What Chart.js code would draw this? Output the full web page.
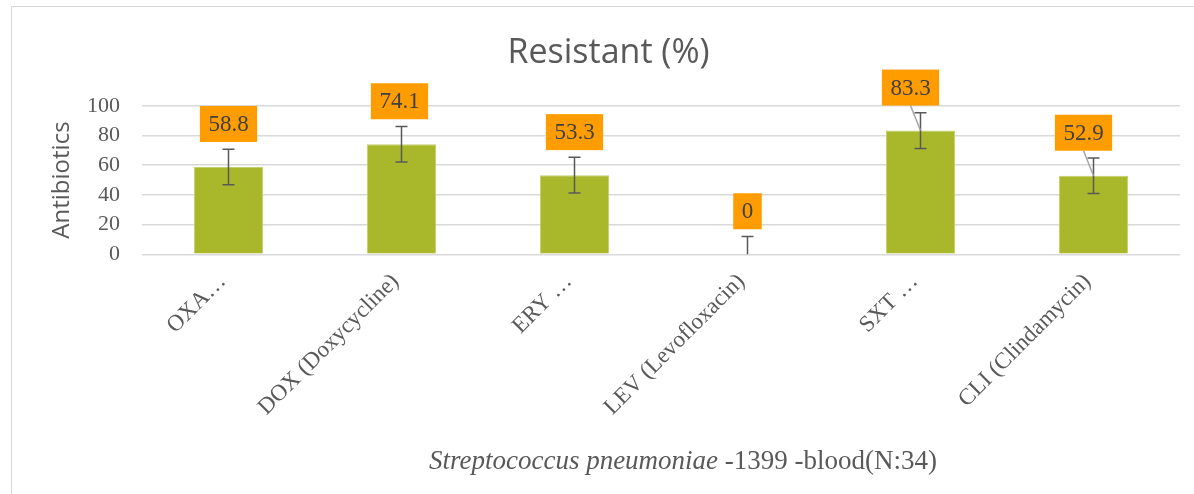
<!DOCTYPE html>
<html>
<head>
<meta charset="utf-8">
<script src="https://cdn.jsdelivr.net/npm/chart.js@4"></script>
<style>
  html, body { margin: 0; padding: 0; background: #fff; overflow: hidden; }
  #marco {
    position: absolute; left: 11px; top: 6px;
    width: 1200px; height: 500px;
    border-left: 1px solid #d9d9d9; border-top: 1px solid #d9d9d9;
  }
</style>
</head>
<body>
<div id="marco"><canvas id="barChart"></canvas></div>
<script>
// datos del grafico
const categorias = ['OXA…', 'DOX (Doxycycline)', 'ERY …', 'LEV (Levofloxacin)', 'SXT …', 'CLI (Clindamycin)'];
const resistentes = [58.8, 74.1, 53.3, 0, 83.3, 52.9];
const errores = [12, 12, 12, 12, 12, 12];
const ticksY = [0, 20, 40, 60, 80, 100];

// desplazamiento horizontal de algunas etiquetas (como en el original)
const desplazaEtiqueta = [0, -2, 0, 0, -10, -10];

const gris = '#595959';
const serif = "'Liberation Serif', 'Times New Roman', serif";
const sans = "'Open Sans', 'Noto Sans', sans-serif";

// plugin: barras de error, etiquetas naranjas y titulo inferior
const extras = {
    id: 'extras',
    afterDatasetsDraw(chart) {
        const ctx = chart.ctx;
        const y = chart.scales.y;
        const meta = chart.getDatasetMeta(0);

        // barras de error
        ctx.save();
        ctx.strokeStyle = gris;
        ctx.lineWidth = 1.5;
        meta.data.forEach((bar, i) => {
            const top = y.getPixelForValue(resistentes[i] + errores[i]);
            const bot = y.getPixelForValue(Math.max(0, resistentes[i] - errores[i]));
            ctx.beginPath();
            ctx.moveTo(bar.x, top); ctx.lineTo(bar.x, bot);
            ctx.moveTo(bar.x - 6, top); ctx.lineTo(bar.x + 6, top);
            if (resistentes[i] - errores[i] > 0) {
                ctx.moveTo(bar.x - 6, bot); ctx.lineTo(bar.x + 6, bot);
            }
            ctx.stroke();
        });
        ctx.restore();

        // etiquetas de datos
        ctx.save();
        ctx.font = '23px ' + serif;
        ctx.textAlign = 'center';
        ctx.textBaseline = 'middle';
        meta.data.forEach((bar, i) => {
            const txt = String(resistentes[i]);
            const w = ctx.measureText(txt).width + 17;
            const h = 36;
            const cx = bar.x + desplazaEtiqueta[i];
            const bottom = bar.y - 25;
            if (desplazaEtiqueta[i] < -5) {
                ctx.strokeStyle = '#a6a6a6';
                ctx.lineWidth = 1.5;
                ctx.beginPath();
                ctx.moveTo(cx, bottom); ctx.lineTo(bar.x, bar.y);
                ctx.stroke();
            }
            ctx.fillStyle = '#ff9c00';
            ctx.fillRect(cx - w / 2, bottom - h, w, h);
            ctx.fillStyle = '#404040';
            ctx.fillText(txt, cx, bottom - h / 2 + 1);
        });
        ctx.restore();
    },
    afterDraw(chart) {
        // titulo del eje x con parte en cursiva
        const ctx = chart.ctx;
        const a = chart.chartArea;
        const p1 = 'Streptococcus pneumoniae';
        const p2 = ' -1399 -blood(N:34)';
        ctx.save();
        ctx.fillStyle = gris;
        ctx.textBaseline = 'middle';
        ctx.font = 'italic 27px ' + serif;
        const w1 = ctx.measureText(p1).width;
        ctx.font = '27px ' + serif;
        const w2 = ctx.measureText(p2).width;
        const x0 = (a.left + a.right) / 2 + 22 - (w1 + w2) / 2;
        const yy = 455;
        ctx.font = 'italic 27px ' + serif;
        ctx.fillText(p1, x0, yy);
        ctx.font = '27px ' + serif;
        ctx.fillText(p2, x0 + w1, yy);
        ctx.restore();
    }
};

const ctx = document.getElementById('barChart').getContext('2d');
window.barChartInstance = new Chart(ctx, {
    type: 'bar',
    data: {
        labels: categorias,
        datasets: [{
            label: 'Resistant (%)',
            data: resistentes,
            backgroundColor: '#a8b82a',
            borderColor: '#c4d06a',
            borderWidth: 1,
            barPercentage: 0.4,
            categoryPercentage: 1
        }]
    },
    options: {
        responsive: true,
        maintainAspectRatio: false,
        animation: false,
        layout: { padding: { left: 25, right: 32, bottom: 80 } },
        scales: {
            x: {
                grid: { display: false },
                border: { display: false },
                ticks: {
                    color: gris,
                    font: { family: serif, size: 23 },
                    minRotation: 45,
                    maxRotation: 45,
                    autoSkip: false,
                    labelOffset: -6,
                    padding: 6
                }
            },
            y: {
                min: 0,
                max: 100,
                afterBuildTicks: (s) => { s.ticks = ticksY.map(v => ({ value: v })); },
                afterFit: (s) => { s.width = 105; },
                grid: { color: '#d9d9d9', lineWidth: 1.5, drawTicks: false },
                border: { display: false },
                ticks: {
                    color: gris,
                    font: { family: serif, size: 22 },
                    autoSkip: false,
                    padding: 22
                },
                title: {
                    display: true,
                    text: 'Antibiotics',
                    color: gris,
                    font: { family: sans, size: 24 },
                    padding: { top: 11, bottom: 0 }
                }
            }
        },
        plugins: {
            legend: { display: false },
            tooltip: { enabled: false },
            title: {
                display: true,
                text: 'Resistant (%)',
                color: gris,
                font: { family: sans, size: 34, weight: 'normal' },
                padding: { top: 26, bottom: 32 }
            }
        }
    },
    plugins: [extras]
});
</script>
</body>
</html>
